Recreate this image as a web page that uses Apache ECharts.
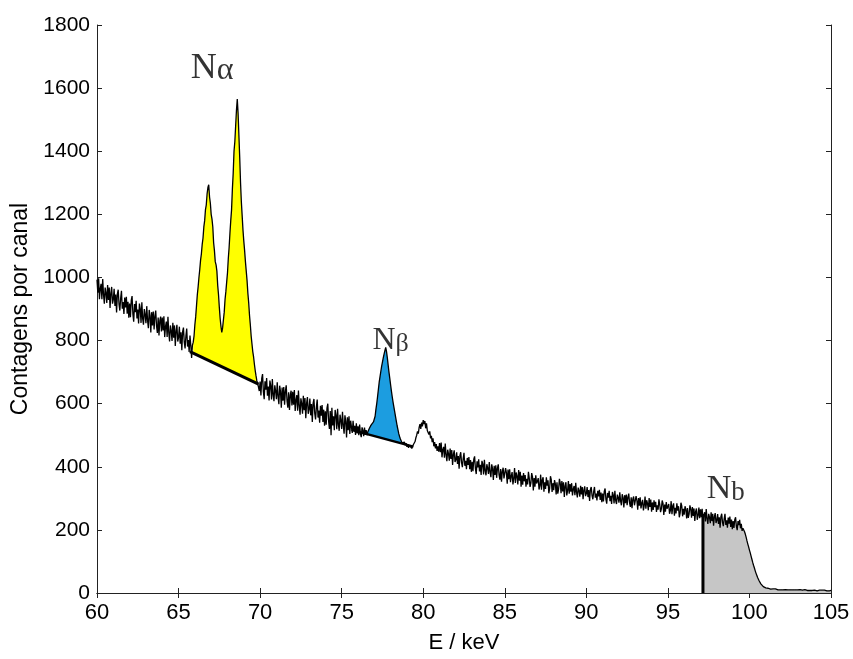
<!DOCTYPE html>
<html>
<head>
<meta charset="utf-8">
<script src="https://cdn.jsdelivr.net/npm/echarts@6/dist/echarts.min.js"></script>
<style>
html,body{margin:0;padding:0;background:#fff;}
#chart{width:853px;height:659px;}
</style>
</head>
<body>
<div id="chart"></div>
<script>
// Channel energies: start + step (keV)
const energyStart = 60;
const energyStep = 0.05;
// Counts per channel, 60.00 ... 105.00 keV (one row = 1 keV unless noted)
const counts = [
// 60
993, 952, 997, 931, 964, 980, 931, 995, 945, 917, 968, 951, 919, 976, 929, 968, 903, 950, 970, 917,
// 61
930, 964, 910, 946, 889, 948, 961, 915, 895, 934, 958, 901, 922, 884, 936, 905, 939, 885, 923, 872,
// 62
917, 874, 927, 941, 884, 860, 916, 890, 926, 870, 898, 854, 917, 901, 856, 921, 869, 850, 900, 882,
// 63
855, 909, 864, 839, 897, 878, 826, 890, 848, 892, 835, 877, 895, 846, 824, 873, 816, 862, 876, 829,
// 64
873, 832, 877, 811, 844, 860, 811, 875, 825, 797, 848, 831, 799, 856, 809, 848, 783, 830, 850, 797,
// 65.00 - 65.85
810, 844, 790, 826, 769, 828, 841, 795, 775, 814, 838, 781, 802, 764, 816, 785, 745, 785,
// 65.90 - 65.95
795, 815,
// 66
850, 875, 910, 945, 970, 1000, 1025, 1055, 1075, 1105, 1125, 1160, 1180, 1215, 1230, 1265, 1285, 1294, 1255, 1235,
// 67
1200, 1185, 1160, 1110, 1085, 1050, 1040, 1020, 975, 945, 905, 870, 845, 826, 840, 865, 890, 930, 955, 985,
// 68
1015, 1060, 1095, 1140, 1180, 1215, 1280, 1330, 1400, 1430, 1480, 1530, 1565, 1520, 1450, 1380, 1300, 1240, 1195, 1150,
// 69
1115, 1085, 1050, 1020, 990, 950, 920, 880, 850, 815, 790, 765, 748, 725, 705, 688, 672, 665, 662, 640,
// 70
670, 626, 680, 694, 638, 614, 671, 644, 681, 625, 654, 610, 673, 657, 613, 678, 627, 608, 658, 640,
// 71
614, 668, 623, 598, 657, 638, 587, 651, 609, 653, 597, 639, 658, 609, 587, 636, 580, 626, 641, 594,
// 72
638, 597, 643, 577, 611, 627, 578, 642, 593, 565, 617, 600, 568, 625, 579, 618, 554, 601, 621, 568,
// 73
582, 616, 563, 599, 542, 601, 615, 569, 550, 589, 613, 556, 578, 540, 593, 562, 596, 542, 581, 530,
// 74
576, 533, 586, 600, 544, 520, 577, 500, 587, 531, 560, 516, 580, 564, 519, 584, 533, 514, 565, 547,
// 75
520, 574, 530, 505, 563, 544, 493, 557, 516, 560, 504, 546, 541, 507, 546, 513, 530, 501, 538, 506,
// 76
528, 500, 534, 505, 494, 525, 515, 497, 524, 501, 516, 500, 510, 515, 522, 528, 532, 536, 538, 542,
// 77
548, 560, 582, 600, 622, 645, 668, 685, 702, 718, 732, 745, 757, 768, 778, 765, 745, 722, 700, 680,
// 78
660, 640, 622, 605, 590, 575, 560, 545, 530, 518, 505, 496, 488, 482, 476, 472, 470, 478, 468, 475,
// 79
463, 472, 460, 468, 462, 470, 458, 466, 470, 465, 480, 492, 500, 512, 505, 525, 535, 520, 540, 528,
// 80
548, 535, 545, 522, 538, 515, 520, 502, 512, 490, 498, 478, 490, 465, 478, 458, 472, 450, 465, 448,
// 81
475, 446, 477, 430, 454, 463, 429, 474, 438, 418, 454, 441, 419, 458, 425, 453, 406, 439, 452, 415,
// 82
422, 446, 409, 434, 394, 435, 446, 413, 399, 426, 444, 403, 419, 392, 428, 406, 431, 392, 421, 384,
// 83
416, 386, 424, 433, 394, 377, 417, 398, 424, 385, 406, 374, 419, 408, 376, 422, 387, 373, 408, 396,
// 84
377, 415, 383, 367, 408, 394, 358, 403, 374, 405, 365, 395, 408, 374, 359, 393, 353, 385, 397, 363,
// 85
361, 396, 381, 346, 391, 361, 392, 351, 371, 383, 344, 362, 396, 349, 382, 370, 344, 390, 356, 384,
// 86
337, 372, 343, 380, 354, 374, 337, 362, 344, 384, 364, 336, 348, 380, 368, 325, 364, 337, 373, 347,
// 87
354, 364, 328, 340, 375, 327, 358, 367, 321, 351, 330, 367, 340, 357, 316, 331, 370, 359, 320, 348,
// 88
326, 358, 346, 312, 351, 315, 329, 362, 348, 316, 355, 322, 351, 304, 339, 351, 309, 324, 355, 315,
// 89
345, 321, 348, 309, 329, 339, 310, 349, 319, 303, 334, 324, 305, 340, 312, 336, 297, 326, 338, 307,
// 90
315, 336, 304, 326, 292, 328, 336, 309, 297, 321, 336, 302, 315, 293, 324, 306, 327, 295, 318, 288,
// 91
315, 290, 322, 331, 297, 283, 317, 302, 324, 291, 308, 282, 320, 311, 284, 324, 293, 282, 312, 302,
// 92
286, 319, 292, 278, 313, 302, 271, 310, 285, 312, 278, 304, 315, 286, 273, 303, 269, 297, 306, 278,
// 93
276, 307, 293, 264, 301, 277, 303, 268, 285, 295, 262, 278, 306, 267, 294, 284, 262, 301, 273, 296,
// 94
258, 287, 263, 294, 272, 289, 257, 278, 264, 297, 281, 256, 267, 293, 284, 247, 280, 258, 288, 267,
// 95
273, 282, 251, 261, 291, 250, 276, 284, 245, 270, 252, 284, 261, 275, 240, 253, 286, 276, 243, 267,
// 96
248, 275, 265, 236, 269, 238, 250, 278, 266, 239, 272, 244, 268, 228, 258, 268, 232, 245, 271, 237,
// 97
265, 240, 267, 227, 247, 256, 227, 266, 236, 219, 251, 240, 221, 256, 228, 251, 213, 241, 253, 222,
// 98
230, 250, 219, 240, 207, 242, 251, 223, 212, 235, 251, 216, 230, 207, 239, 220, 242, 209, 233, 202,
// 99
228, 206, 232, 240, 211, 199, 228, 215, 232, 205, 219, 197, 205, 200, 194, 186, 176, 165, 155, 146,
// 100
136, 127, 117, 107, 97, 88, 80, 71, 63, 56, 49, 43, 38, 33, 29, 26, 23, 20, 18, 17,
// 101
16, 15, 14, 15, 13, 14, 12, 13, 12, 13, 11, 12, 13, 11, 12, 10, 12, 11, 10, 12,
// 102
11, 10, 12, 9, 11, 10, 12, 10, 9, 11, 10, 12, 9, 10, 11, 9, 10, 11, 9, 10,
// 103
10, 9, 11, 8, 10, 9, 10, 8, 11, 9, 10, 8, 9, 10, 8, 10, 9, 8, 10, 9,
// 104
9, 8, 10, 7, 9, 8, 9, 7, 8, 9, 7, 8, 9, 7, 8, 7, 9, 8, 7, 8,
// 105
8
];
// Peak regions (keV) and their linear backgrounds [[E, counts], [E, counts]]
const alphaRange = [65.9, 69.85];
const alphaBase = [[65.7, 765], [69.9, 662]];
const betaRange = [76.6, 78.8];
const betaBase = [[75.6, 517], [79.4, 464]];
const bRange = [97.15, 105];
const bEdge = [[97.15, 0], [97.15, 250]];
// Annotations
const labelSubs = ['α', 'β', 'b'];
const labelPos = [[67.06, 1662], [78.0, 800], [98.55, 328]];
// Axis ticks
const xTicks = {min: 60, max: 105, interval: 5};
const yTicks = {min: 0, max: 1800, interval: 200};

const spectrum = counts.map((c, i) => [Math.round((energyStart + i * energyStep) * 100) / 100, c]);

function baseAt(base, x) {
  const a = base[0], b = base[1];
  return a[1] + (b[1] - a[1]) * (x - a[0]) / (b[0] - a[0]);
}
function regionSeries(range, base, color) {
  return {
    type: 'custom',
    xAxisIndex: 0, yAxisIndex: 0,
    silent: true,
    z: 1,
    data: [[range[0], range[1]]],
    renderItem: function (params, api) {
      const pts = [];
      const y0 = base ? baseAt(base, range[0]) : 0;
      const y1 = base ? baseAt(base, range[1]) : 0;
      pts.push(api.coord([range[0], y0]));
      spectrum.forEach(p => {
        if (p[0] >= range[0] - 1e-9 && p[0] <= range[1] + 1e-9) pts.push(api.coord(p));
      });
      pts.push(api.coord([range[1], y1]));
      return {type: 'polygon', shape: {points: pts}, style: {fill: color, stroke: null}};
    }
  };
}

const axisCol = '#222';
const sans = 'Liberation Sans';
const serif = 'Liberation Serif';

const chart = echarts.init(document.getElementById('chart'), null, {renderer: 'canvas'});
chart.setOption({
  animation: false,
  backgroundColor: '#fff',
  grid: {left: 97, top: 25, width: 734, height: 577, containLabel: false},
  xAxis: [{
    type: 'value', min: xTicks.min, max: xTicks.max, interval: xTicks.interval,
    name: 'E / keV', nameLocation: 'middle', nameGap: 39,
    nameTextStyle: {fontFamily: sans, fontSize: 22, color: '#000'},
    axisLine: {lineStyle: {color: axisCol, width: 1}},
    axisTick: {inside: true, length: 5, lineStyle: {color: axisCol}},
    axisLabel: {fontFamily: sans, fontSize: 22, color: '#000', margin: 9},
    splitLine: {show: false}
  }, {
    type: 'value', position: 'top', min: xTicks.min, max: xTicks.max, interval: xTicks.interval,
    axisLine: {lineStyle: {color: axisCol, width: 1}},
    axisTick: {inside: true, length: 5, lineStyle: {color: axisCol}},
    axisLabel: {show: false}, splitLine: {show: false}
  }],
  yAxis: [{
    type: 'value', min: yTicks.min, max: yTicks.max, interval: yTicks.interval,
    name: 'Contagens por canal', nameLocation: 'middle', nameGap: 61, nameRotate: 90,
    nameTextStyle: {fontFamily: sans, fontSize: 23, color: '#000'},
    axisLine: {show: true, lineStyle: {color: axisCol, width: 1}},
    axisTick: {show: true, inside: true, length: 5, lineStyle: {color: axisCol}},
    axisLabel: {fontFamily: sans, fontSize: 21, color: '#000', margin: 7, formatter: v => String(v)},
    splitLine: {show: false}
  }, {
    type: 'value', position: 'right', min: yTicks.min, max: yTicks.max, interval: yTicks.interval,
    axisLine: {show: true, lineStyle: {color: axisCol, width: 1}},
    axisTick: {show: true, inside: true, length: 5, lineStyle: {color: axisCol}},
    axisLabel: {show: false}, splitLine: {show: false}
  }],
  series: [
    regionSeries(alphaRange, alphaBase, '#ffff00'),
    regionSeries(betaRange, betaBase, '#1c9de0'),
    regionSeries(bRange, null, '#c6c6c6'),
    {
      type: 'line', data: spectrum, showSymbol: false, symbol: 'none',
      lineStyle: {color: '#000', width: 1.3}, z: 3, silent: true
    },
    {
      type: 'line', data: alphaBase, showSymbol: false, symbol: 'none',
      lineStyle: {color: '#000', width: 3}, z: 4, silent: true
    },
    {
      type: 'line', data: betaBase, showSymbol: false, symbol: 'none',
      lineStyle: {color: '#000', width: 2.5}, z: 4, silent: true
    },
    {
      type: 'line', data: bEdge, showSymbol: false, symbol: 'none',
      lineStyle: {color: '#000', width: 3}, z: 4, silent: true
    },
    {
      type: 'scatter', symbolSize: 0, z: 5, silent: true,
      data: labelPos.map((p, i) => ({value: p, name: labelSubs[i]})),
      label: {
        show: true, position: 'inside', color: '#000',
        formatter: function (p) { return '{n' + p.dataIndex + '|N}{s' + p.dataIndex + '|' + p.name + '}'; },
        rich: {
          n0: {fontFamily: serif, fontSize: 36, color: '#000'},
          s0: {fontFamily: serif, fontSize: 32, color: '#000', padding: [4, 0, 0, 0]},
          n1: {fontFamily: serif, fontSize: 32, color: '#000'},
          s1: {fontFamily: serif, fontSize: 26, color: '#000', padding: [8, 0, 0, 0]},
          n2: {fontFamily: serif, fontSize: 34, color: '#000'},
          s2: {fontFamily: serif, fontSize: 27, color: '#000', padding: [6, 0, 0, 0]}
        }
      }
    }
  ]
});
</script>
</body>
</html>
